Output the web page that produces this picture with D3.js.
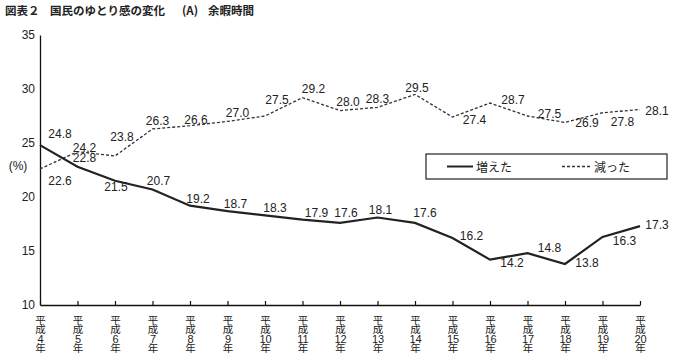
<!DOCTYPE html>
<html><head><meta charset="utf-8">
<script src="https://cdn.jsdelivr.net/npm/d3@7"></script>
<style>
body{margin:0;background:#fff;}
text{font-family:"Liberation Sans","Noto Sans CJK JP",sans-serif;fill:#222;}
.jp{font-family:"Noto Sans CJK JP",sans-serif;}
</style></head>
<body><svg id="c" width="679" height="360"></svg>
<script>
const years = ["4","5","6","7","8","9","10","11","12","13","14","15","16","17","18","19","20"];
const increased = [24.8,22.8,21.5,20.7,19.2,18.7,18.3,17.9,17.6,18.1,17.6,16.2,14.2,14.8,13.8,16.3,17.3];
const decreased = [22.6,24.2,23.8,26.3,26.6,27.0,27.5,29.2,28.0,28.3,29.5,27.4,28.7,27.5,26.9,27.8,28.1];
const yTicks = [10,15,20,25,30,35];
const seriesNames = ["増えた","減った"];
const incLabelOffset = [[20,-11],[7,-9],[1,6],[6,-8],[8,-7],[8,-7],[10,-7],[14,-7],[6,-10],[3,-8],[10,-10],[19,-2],[22,3],[22,-5],[22,-1],[22,4],[17,-1]];
const decLabelOffset = [[20,12],[7,-4],[7,-19],[5,-8],[6,-6],[10,-8],[12,-16],[11,-9],[8,-9],[0,-8],[2,-6],[22,3],[23,-3],[22,-2],[22,1],[20,9],[17,1]];

const svg = d3.select("#c");
const x = d3.scalePoint().domain(years).range([40,640]);
const y = d3.scaleLinear().domain([10,35]).range([305,35]);

// title
const title = svg.append("g").style("font-weight","bold").style("font-size","11.5px");
title.append("text").attr("class","jp").attr("x",5).attr("y",15).text("図表２");
title.append("text").attr("class","jp").attr("x",50).attr("y",15).text("国民のゆとり感の変化");
title.append("text").attr("class","jp").attr("x",182).attr("y",15).text("(A)");
title.append("text").attr("class","jp").attr("x",208).attr("y",15).text("余暇時間");

// y axis
const ya = svg.append("g").attr("transform","translate(40,0)")
  .call(d3.axisLeft(y).tickValues(yTicks).tickSize(0).tickSizeOuter(0).tickPadding(5).tickFormat(d3.format("d")));
ya.select(".domain").attr("stroke","#111").attr("stroke-width",1.3);
ya.selectAll("text").style("font-size","12px").attr("fill","#222").style("font-family","Liberation Sans");

// x axis
const xa = svg.append("g").attr("transform","translate(0,305)")
  .call(d3.axisBottom(x).tickSize(-4).tickSizeOuter(0).tickFormat(""));
xa.select(".domain").attr("stroke","#111").attr("stroke-width",1.3);
xa.selectAll(".tick line").attr("stroke","#111").attr("stroke-width",1.2);
xa.selectAll(".tick").each(function(d){
  const t = d3.select(this).append("text").attr("x",0).attr("y",19).attr("text-anchor","middle")
    .attr("fill","#222").style("font-size","10.5px").style("font-family","Noto Sans CJK JP");
  const parts = ["平","成",d,"年"];
  parts.forEach((p,i)=>{
    t.append("tspan").attr("x",0).attr("dy", i===0 ? 0 : 9.3)
      .style("font-size", i===2 ? "11px" : "10.5px")
      .style("font-family", i===2 ? "Liberation Sans" : "Noto Sans CJK JP")
      .text(p);
  });
});

// (%)
svg.append("text").attr("x",18).attr("y",166).attr("text-anchor","middle").attr("dominant-baseline","central")
  .style("font-size","12px").text("(%)");

const line = d3.line().x((d,i)=>x(years[i])).y(d=>y(d));
svg.append("path").datum(decreased).attr("d",line).attr("fill","none").attr("stroke","#333")
  .attr("stroke-width",1.3).attr("stroke-dasharray","3,2");
svg.append("path").datum(increased).attr("d",line).attr("fill","none").attr("stroke","#222")
  .attr("stroke-width",2.2);

function labels(data, offs){
  svg.append("g").selectAll("text").data(data).join("text")
    .attr("x",(d,i)=>x(years[i])+offs[i][0]).attr("y",(d,i)=>y(d)+offs[i][1])
    .attr("text-anchor","middle").attr("dominant-baseline","central")
    .style("font-size","12px").text(d=>d.toFixed(1));
}
labels(increased, incLabelOffset);
labels(decreased, decLabelOffset);

// legend
const lg = svg.append("g");
lg.append("rect").attr("x",426).attr("y",154).attr("width",241).attr("height",25)
  .attr("fill","#fff").attr("stroke","#222").attr("stroke-width",1.2);
lg.append("line").attr("x1",447).attr("x2",473).attr("y1",166.5).attr("y2",166.5).attr("stroke","#222").attr("stroke-width",2);
lg.append("text").attr("class","jp").attr("x",476).attr("y",166.5).attr("dominant-baseline","central").style("font-size","12px").text(seriesNames[0]);
lg.append("line").attr("x1",562).attr("x2",591).attr("y1",166.5).attr("y2",166.5).attr("stroke","#333").attr("stroke-width",1.3).attr("stroke-dasharray","3,2");
lg.append("text").attr("class","jp").attr("x",594).attr("y",166.5).attr("dominant-baseline","central").style("font-size","12px").text(seriesNames[1]);
</script></body></html>
